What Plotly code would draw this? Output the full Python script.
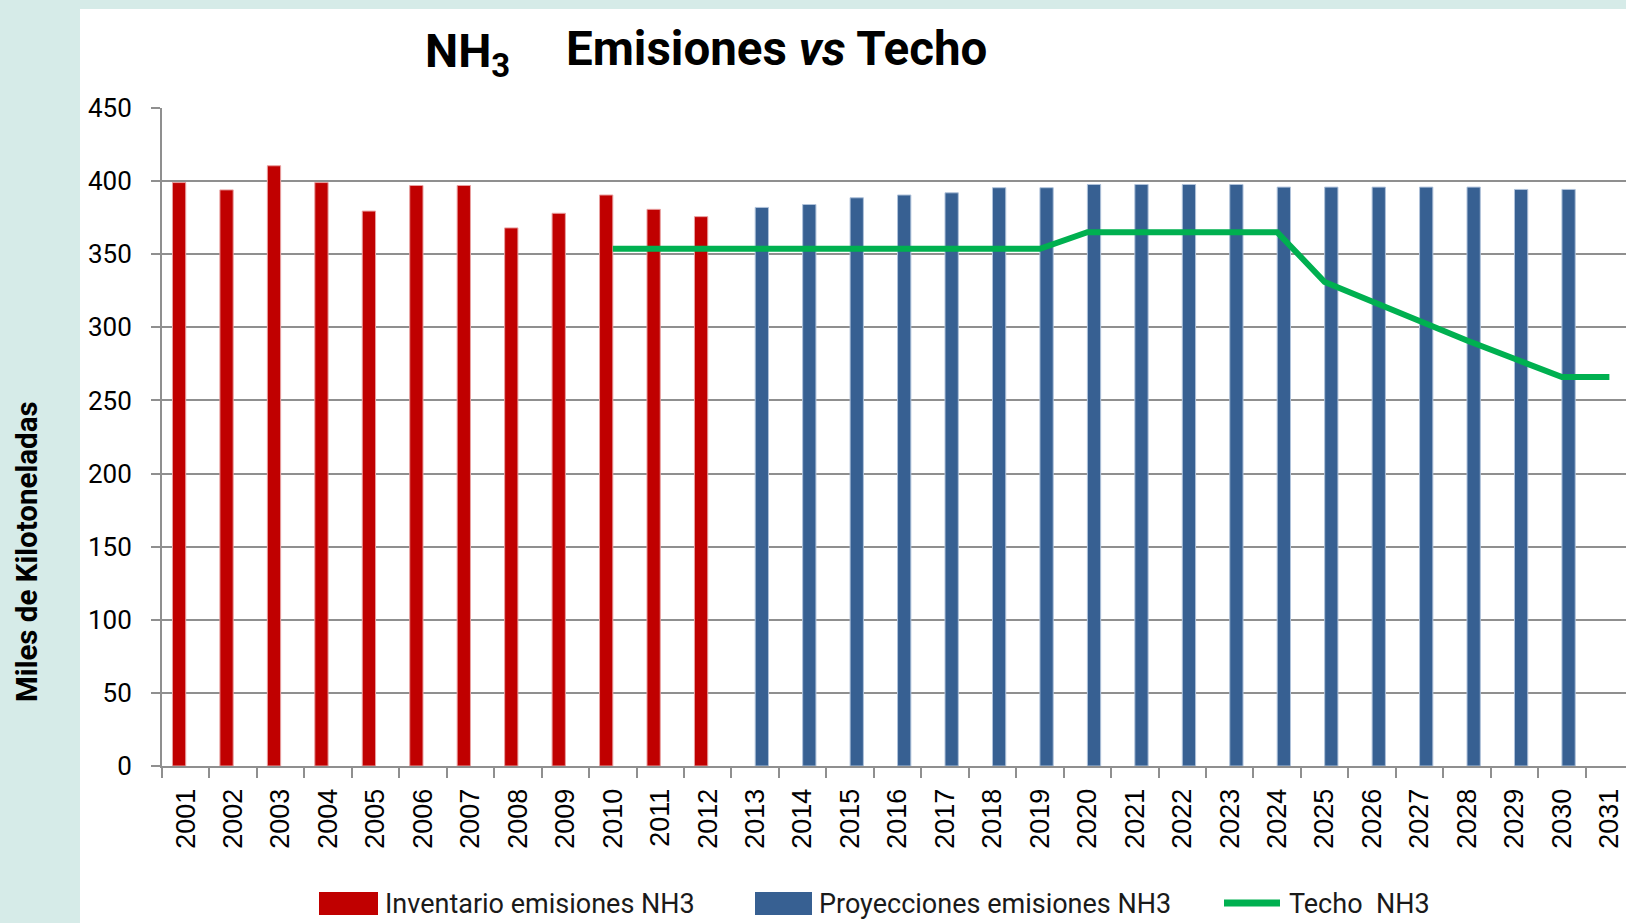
import plotly.graph_objects as go

# data
years = [str(y) for y in range(2001, 2032)]
inv_years = years[:12]
inv_values = [399, 394, 410.5, 399, 379.5, 397, 397, 368, 378, 390.5, 380.7, 375.7]
proj_years = years[12:30]
proj_values = [382, 384, 388.6, 390.5, 392, 395.5, 395.5, 397.7, 397.7, 397.7,
               397.7, 395.9, 395.9, 395.9, 395.9, 395.9, 394.3, 394.3]
techo_years = years[9:]
techo_values = [353.7, 353.7, 353.7, 353.7, 353.7, 353.7, 353.7, 353.7, 353.7, 353.7,
                365.1, 365.1, 365.1, 365.1, 365.1, 331, 317.5, 305, 291, 278.5, 266, 266]
y_ticks = list(range(0, 451, 50))

RED = "#C00000"
BLUE = "#376092"
GREEN = "#00B050"
GRID = "#8f8f8f"

# layout in pixels
W_FIG, H_FIG = 1626, 923
L, T, B = 162, 108, 766
PW, PH = W_FIG - L, B - T


def px_x(px):
    return (px - L) / PW


def px_y(py):
    return (B - py) / PH


fig = go.Figure()
fig.add_trace(go.Bar(
    x=inv_years, y=inv_values, name="Inventario emisiones NH3",
    width=0.28, offset=-0.28,
    marker=dict(color=RED, line=dict(color="#E8A0A0", width=1)),
))
fig.add_trace(go.Bar(
    x=proj_years, y=proj_values, name="Proyecciones emisiones NH3",
    width=0.28, offset=0,
    marker=dict(color=BLUE, line=dict(color="#AFC2DA", width=1)),
))
fig.add_trace(go.Scatter(
    x=techo_years, y=techo_values, name="Techo  NH3", mode="lines",
    line=dict(color=GREEN, width=6),
))

shapes = [
    # white panel over the teal background
    dict(type="rect", xref="paper", yref="paper", layer="below",
         x0=px_x(80), x1=px_x(1640), y0=px_y(930), y1=px_y(9),
         fillcolor="white", line=dict(width=0)),
    # legend swatches
    dict(type="rect", xref="paper", yref="paper",
         x0=px_x(319), x1=px_x(378), y0=px_y(915), y1=px_y(892),
         fillcolor=RED, line=dict(width=0)),
    dict(type="rect", xref="paper", yref="paper",
         x0=px_x(755), x1=px_x(812), y0=px_y(915), y1=px_y(892),
         fillcolor=BLUE, line=dict(width=0)),
    dict(type="line", xref="paper", yref="paper",
         x0=px_x(1224), x1=px_x(1280), y0=px_y(903), y1=px_y(903),
         line=dict(color=GREEN, width=7)),
]

legend_font = dict(family="Roboto", size=27, color="#1a1a1a")
annotations = [
    dict(text="NH<sub>3</sub>", x=px_x(423), y=px_y(54), xref="paper", yref="paper",
         xanchor="left", yanchor="middle", showarrow=False,
         font=dict(family="Roboto", size=47, color="black", weight="bold")),
    dict(text="Emisiones <i>vs</i> Techo", x=px_x(564), y=px_y(49),
         xref="paper", yref="paper", xanchor="left", yanchor="middle", showarrow=False,
         font=dict(family="Roboto", size=47.5, color="black", weight="bold")),
    dict(text="Miles de Kilotoneladas", x=px_x(27), y=px_y(552), xref="paper", yref="paper",
         xanchor="center", yanchor="middle", textangle=-90, showarrow=False,
         font=dict(family="Roboto", size=29.5, color="black", weight="bold")),
    dict(text="Inventario emisiones NH3", x=px_x(383), y=px_y(904), xref="paper", yref="paper",
         xanchor="left", yanchor="middle", showarrow=False, font=legend_font),
    dict(text="Proyecciones emisiones NH3", x=px_x(817), y=px_y(904), xref="paper", yref="paper",
         xanchor="left", yanchor="middle", showarrow=False, font=legend_font),
    dict(text="Techo  NH3", x=px_x(1287), y=px_y(904), xref="paper", yref="paper",
         xanchor="left", yanchor="middle", showarrow=False, font=legend_font),
]

fig.update_layout(
    width=W_FIG, height=H_FIG,
    margin=dict(l=L, r=0, t=T, b=H_FIG - B, pad=0),
    paper_bgcolor="#D6EBE8",
    plot_bgcolor="white",
    barmode="overlay",
    showlegend=False,
    shapes=shapes,
    annotations=annotations,
)
fig.update_xaxes(
    type="category", categoryorder="array", categoryarray=years,
    tickvals=years, range=[-0.5, 30.35],
    tickangle=-90, tickfont=dict(family="Liberation Sans", size=27, color="black"),
    ticks="outside", tickson="boundaries", ticklen=10, tickwidth=2, tickcolor=GRID,
    ticklabelstandoff=10,
    showline=True, linecolor=GRID, linewidth=2, showgrid=False,
)
fig.update_yaxes(
    range=[0, 450], tickvals=y_ticks,
    tickfont=dict(family="Roboto", size=26, color="black"),
    ticks="outside", ticklen=9, tickwidth=2, tickcolor=GRID, ticklabelstandoff=14,
    showline=True, linecolor=GRID, linewidth=2,
    showgrid=True, gridcolor=GRID, gridwidth=2, zeroline=False,
)

fig.write_html("out.html", config={"displayModeBar": False},
               post_script="document.body.style.margin='0';")
